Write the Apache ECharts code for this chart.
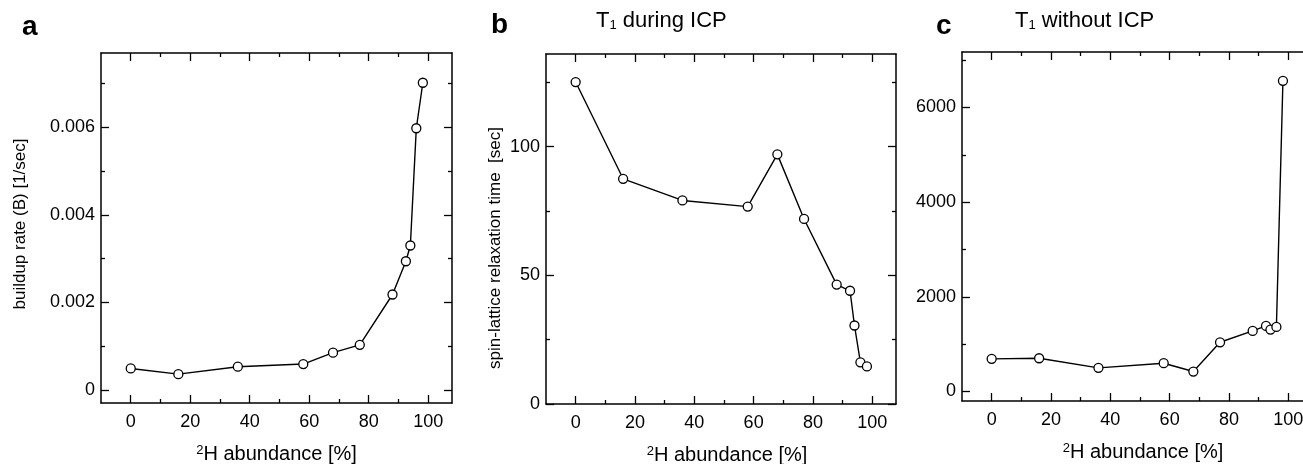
<!DOCTYPE html>
<html>
<head>
<meta charset="utf-8">
<script src="https://cdn.jsdelivr.net/npm/echarts@6/dist/echarts.min.js"></script>
<style>
  html, body { margin: 0; padding: 0; background: #fff; }
  #chart { width: 1303px; height: 464px; }
</style>
</head>
<body>
<div id="chart"></div>
<script>
// 2H abundance [%] (shared by all three panels)
const abundance = [0, 16, 36, 58, 68, 77, 88, 92.5, 94, 96, 98.2]
// panel a: buildup rate (B) [1/sec]
const buildupRate = [0.00049, 0.00036, 0.00053, 0.00059, 0.00085, 0.00103, 0.00218, 0.00294, 0.0033, 0.00598, 0.00702]
// panel b: T1 during ICP [sec]
const t1DuringIcp = [125.1, 87.5, 79.1, 76.7, 97.0, 71.9, 46.4, 44.0, 30.5, 16.2, 14.6]
// panel c: T1 without ICP [sec]
const t1WithoutIcp = [690, 703, 500, 598, 422, 1040, 1280, 1385, 1308, 1365, 6561]

// tick values
const xMajor = [0, 20, 40, 60, 80, 100]
const xMinor = [10, 30, 50, 70, 90]
const yMajorA = [0, 0.002, 0.004, 0.006]
const yMinorA = [0.001, 0.003, 0.005, 0.007]
const yMajorB = [0, 50, 100]
const yMinorB = [25, 75, 125]
const yMajorC = [0, 2000, 4000, 6000]
const yMinorC = [1000, 3000, 5000, 7000]

const font = "'Liberation Sans', Arial, sans-serif"
const ink = '#000'

// major + minor ticks on both sides of the box, labels only bottom/left
const boxAxes = (dim, grid, min, max, major, minor, labelFmt, extra) => {
    const sides = dim === 'x' ? ['bottom', 'top'] : ['left', 'right']
    const list = []
    sides.forEach((pos, s) => {
        [major, minor].forEach((vals, k) => {
            const first = s === 0 && k === 0
            const ax = {
                type: 'value', gridIndex: grid, position: pos, min: min, max: max,
                axisLine: { show: k === 0, onZero: false, lineStyle: { color: ink, width: 1.5 } },
                axisTick: { show: true, inside: true, length: k === 0 ? 8 : 4, customValues: vals,
                    lineStyle: { color: ink, width: 1.3 } },
                axisLabel: { show: first, customValues: vals, color: ink, fontSize: 18, fontFamily: font,
                    margin: dim === 'x' ? 10 : 6, formatter: labelFmt },
                splitLine: { show: false },
                minorTick: { show: false }
            }
            list.push(first ? Object.assign(ax, extra || {}) : ax)
        })
    })
    return list
}

const xName = (pad) => ({
    name: '{s|2}{t|H abundance [%]}',
    nameLocation: 'middle',
    nameGap: 41,
    nameTextStyle: {
        padding: pad,
        rich: {
            s: { fontSize: 13, fontFamily: font, color: ink, verticalAlign: 'top' },
            t: { fontSize: 20, fontFamily: font, color: ink }
        }
    }
})

const yName = (name, gap, pad) => ({
    name: name, nameLocation: 'middle', nameGap: gap,
    nameTextStyle: { fontSize: 17, fontFamily: font, color: ink, padding: pad }
})

const panels = [
    { grid: { left: 101, top: 53, width: 351, height: 350 }, xPad: [0, 0, 0, 0],
      yMin: -0.0003, yMax: 0.0077, yMajor: yMajorA, yMinor: yMinorA, values: buildupRate,
      fmt: (v) => v === 0 ? '0' : v.toFixed(3), yExtra: yName('buildup rate (B) [1/sec]', 72, [0, 0, 0, 8]) },
    { grid: { left: 546, top: 54, width: 350, height: 350 }, xPad: [0, 0, 0, 12],
      yMin: 0, yMax: 136, yMajor: yMajorB, yMinor: yMinorB, values: t1DuringIcp,
      fmt: (v) => String(v), yExtra: yName('spin-lattice relaxation time  [sec]', 42, [0, 38, 0, 0]) },
    { grid: { left: 962, top: 52, width: 350, height: 349 }, xPad: [0, 0, 0, 12],
      yMin: -200, yMax: 7170, yMajor: yMajorC, yMinor: yMinorC, values: t1WithoutIcp,
      fmt: (v) => String(v), yExtra: {} }
]

let xAxes = []; let yAxes = []; const series = []
panels.forEach((p, i) => {
    const xi = xAxes.length; const yi = yAxes.length
    xAxes = xAxes.concat(boxAxes('x', i, -10, 108, xMajor, xMinor, (v) => String(v), xName(p.xPad)))
    yAxes = yAxes.concat(boxAxes('y', i, p.yMin, p.yMax, p.yMajor, p.yMinor, p.fmt, p.yExtra))
    series.push({
        type: 'line', xAxisIndex: xi, yAxisIndex: yi,
        data: abundance.map((x, j) => [x, p.values[j]]),
        symbol: 'circle', symbolSize: 9, showSymbol: true,
        lineStyle: { color: ink, width: 1.4 },
        itemStyle: { color: '#fff', borderColor: ink, borderWidth: 1.3 },
        z: 3
    })
})

const letter = (t, left, top) => ({
    text: t, left: left, top: top, padding: 0,
    textStyle: { fontSize: 28, fontWeight: 'bold', fontFamily: font, color: ink }
})
const subTitle = (before, after, left, top) => ({
    text: `{t|${before}}{s|1}{t|${after}}`, left: left, top: top, padding: 0,
    textStyle: { fontWeight: 'normal', rich: {
        t: { fontSize: 22, fontWeight: 'normal', fontFamily: font, color: ink },
        s: { fontSize: 13, fontWeight: 'normal', fontFamily: font, color: ink, verticalAlign: 'bottom' }
    } }
})

const chart = echarts.init(document.getElementById('chart'), null, { renderer: 'canvas' })
chart.setOption({
    animation: false,
    backgroundColor: '#fff',
    textStyle: { fontFamily: font },
    title: [
        letter('a', 22, 13), letter('b', 491, 11), letter('c', 936, 12),
        subTitle('T', ' during ICP', 596, 10), subTitle('T', ' without ICP', 1015, 10)
    ],
    grid: panels.map(p => Object.assign({ outerBoundsMode: 'none', containLabel: false }, p.grid)),
    xAxis: xAxes,
    yAxis: yAxes,
    series: series
})
</script>
</body>
</html>
